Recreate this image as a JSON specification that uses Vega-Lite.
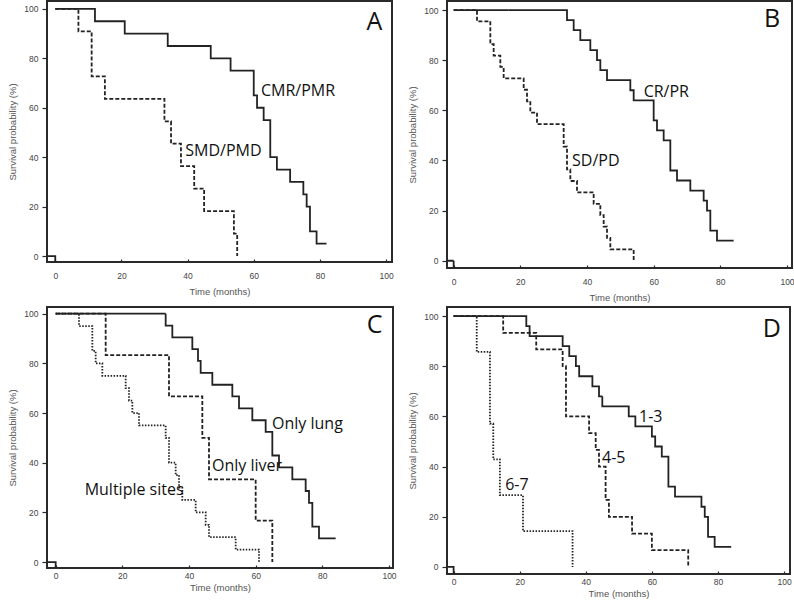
{
  "$schema": "https://vega.github.io/schema/vega-lite/v6.json",
  "padding": {"left": 6, "top": 0, "right": 0, "bottom": 0},
  "background": "white",
  "columns": 2,
  "spacing": {"column": 8, "row": 3},
  "config": {
    "view": {"stroke": "#2a2a2a", "strokeWidth": 2},
    "axis": {
      "domain": false, "grid": false,
      "tickColor": "#2a2a2a", "tickWidth": 1.2,
      "labelFont": "Liberation Sans", "labelFontSize": 8.5, "labelColor": "#444",
      "titleFont": "Liberation Sans", "titleFontSize": 9.5, "titleFontWeight": "normal", "titleColor": "#555"
    },
    "axisY": {"tickSize": 5, "labelPadding": 4, "titlePadding": 6},
    "axisX": {"offset": -3, "tickSize": 3, "labelPadding": 9, "titlePadding": 7}
  },
  "concat": [
    {
      "width": 345, "height": 261,
      "layer": [
        {
          "data": {"values": [
            {"g": "origin", "t": -2.4, "s": 0}, {"g": "origin", "t": 0, "s": -2.5},
            {"g": "CMR/PMR", "t": 0, "s": 100}, {"g": "CMR/PMR", "t": 12, "s": 95}, {"g": "CMR/PMR", "t": 21, "s": 90}, {"g": "CMR/PMR", "t": 34, "s": 85}, {"g": "CMR/PMR", "t": 47, "s": 80}, {"g": "CMR/PMR", "t": 53, "s": 75}, {"g": "CMR/PMR", "t": 60, "s": 65}, {"g": "CMR/PMR", "t": 61, "s": 60}, {"g": "CMR/PMR", "t": 63, "s": 55}, {"g": "CMR/PMR", "t": 65, "s": 40}, {"g": "CMR/PMR", "t": 67, "s": 35}, {"g": "CMR/PMR", "t": 71, "s": 30}, {"g": "CMR/PMR", "t": 75, "s": 25}, {"g": "CMR/PMR", "t": 76, "s": 20}, {"g": "CMR/PMR", "t": 77, "s": 10}, {"g": "CMR/PMR", "t": 79, "s": 5}, {"g": "CMR/PMR", "t": 82, "s": 5},
            {"g": "SMD/PMD", "t": 0, "s": 100}, {"g": "SMD/PMD", "t": 7, "s": 90.9}, {"g": "SMD/PMD", "t": 11, "s": 72.7}, {"g": "SMD/PMD", "t": 15, "s": 63.6}, {"g": "SMD/PMD", "t": 33, "s": 54.5}, {"g": "SMD/PMD", "t": 35, "s": 45.5}, {"g": "SMD/PMD", "t": 38, "s": 36.4}, {"g": "SMD/PMD", "t": 42, "s": 27.3}, {"g": "SMD/PMD", "t": 45, "s": 18.2}, {"g": "SMD/PMD", "t": 54, "s": 9.1}, {"g": "SMD/PMD", "t": 55, "s": 0}
          ]},
          "mark": {"type": "line", "interpolate": "step-after", "strokeWidth": 1.8, "color": "#222", "clip": true},
          "encoding": {
            "x": {"field": "t", "type": "quantitative", "scale": {"domain": [-2.5, 101.8], "nice": false, "zero": false}, "axis": {"title": "Time (months)", "values": [0,10,20,30,40,50,60,70,80,90,100], "labelExpr": "datum.value % 20 == 0 ? datum.label : ''"}},
            "y": {"field": "s", "type": "quantitative", "scale": {"domain": [-2.4, 103.2], "nice": false, "zero": false}, "axis": {"title": "Survival probability (%)", "values": [0,10,20,30,40,50,60,70,80,90,100], "labelExpr": "datum.value % 20 == 0 ? datum.label : ''"}},
            "detail": {"field": "g", "type": "nominal"},
            "strokeDash": {"field": "g", "type": "nominal", "legend": null, "scale": {"domain": ["origin","CMR/PMR","SMD/PMD","CR/PR","SD/PD","Only lung","Only liver","Multiple sites","1-3","4-5","6-7"], "range": [[1,0],[1,0],[4,2],[1,0],[4,2],[1,0],[4,2],[1.5,1.5],[1,0],[4,2],[1.5,1.5]]}}
          }
        },
        {
          "data": {"values": [{"label": "CMR/PMR", "t": 62.2, "s": 66.8}, {"label": "SMD/PMD", "t": 39.3, "s": 42.7}]},
          "mark": {"type": "text", "align": "left", "baseline": "middle", "font": "Open Sans", "fontSize": 16, "color": "#111"},
          "encoding": {"x": {"field": "t", "type": "quantitative"}, "y": {"field": "s", "type": "quantitative"}, "text": {"field": "label"}}
        },
        {
          "data": {"values": [{"label": "A", "t": 96.5, "s": 94.6}]},
          "mark": {"type": "text", "align": "center", "baseline": "middle", "font": "Open Sans", "fontSize": 25, "color": "#111"},
          "encoding": {"x": {"field": "t", "type": "quantitative"}, "y": {"field": "s", "type": "quantitative"}, "text": {"field": "label"}}
        }
      ]
    },
    {
      "width": 345, "height": 267,
      "layer": [
        {
          "data": {"values": [
            {"g": "origin", "t": -2.4, "s": 0}, {"g": "origin", "t": 0, "s": -2.8},
            {"g": "CR/PR", "t": 0, "s": 100}, {"g": "CR/PR", "t": 34, "s": 96}, {"g": "CR/PR", "t": 36, "s": 92}, {"g": "CR/PR", "t": 38, "s": 88}, {"g": "CR/PR", "t": 41, "s": 84}, {"g": "CR/PR", "t": 43, "s": 80}, {"g": "CR/PR", "t": 44, "s": 76}, {"g": "CR/PR", "t": 46, "s": 72}, {"g": "CR/PR", "t": 53, "s": 68}, {"g": "CR/PR", "t": 54, "s": 64}, {"g": "CR/PR", "t": 60, "s": 56}, {"g": "CR/PR", "t": 61, "s": 52}, {"g": "CR/PR", "t": 63, "s": 48}, {"g": "CR/PR", "t": 65, "s": 36}, {"g": "CR/PR", "t": 67, "s": 32}, {"g": "CR/PR", "t": 71, "s": 28}, {"g": "CR/PR", "t": 75, "s": 24}, {"g": "CR/PR", "t": 76, "s": 20}, {"g": "CR/PR", "t": 77, "s": 12}, {"g": "CR/PR", "t": 79, "s": 8}, {"g": "CR/PR", "t": 84, "s": 8},
            {"g": "SD/PD", "t": 0, "s": 100}, {"g": "SD/PD", "t": 7, "s": 95.5}, {"g": "SD/PD", "t": 11, "s": 86.4}, {"g": "SD/PD", "t": 12, "s": 81.8}, {"g": "SD/PD", "t": 14, "s": 77.3}, {"g": "SD/PD", "t": 15, "s": 72.7}, {"g": "SD/PD", "t": 21, "s": 68.2}, {"g": "SD/PD", "t": 22, "s": 63.6}, {"g": "SD/PD", "t": 23, "s": 59.1}, {"g": "SD/PD", "t": 25, "s": 54.5}, {"g": "SD/PD", "t": 33, "s": 45.5}, {"g": "SD/PD", "t": 34, "s": 36.4}, {"g": "SD/PD", "t": 35, "s": 31.8}, {"g": "SD/PD", "t": 37, "s": 27.3}, {"g": "SD/PD", "t": 42, "s": 22.7}, {"g": "SD/PD", "t": 44, "s": 18.2}, {"g": "SD/PD", "t": 45, "s": 13.6}, {"g": "SD/PD", "t": 46, "s": 9.1}, {"g": "SD/PD", "t": 47, "s": 4.5}, {"g": "SD/PD", "t": 54, "s": 0}
          ]},
          "mark": {"type": "line", "interpolate": "step-after", "strokeWidth": 1.8, "color": "#222", "clip": true},
          "encoding": {
            "x": {"field": "t", "type": "quantitative", "scale": {"domain": [-2, 101.5], "nice": false, "zero": false}, "axis": {"title": "Time (months)", "values": [0,10,20,30,40,50,60,70,80,90,100], "labelExpr": "datum.value % 20 == 0 ? datum.label : ''"}},
            "y": {"field": "s", "type": "quantitative", "scale": {"domain": [-2.9, 103.6], "nice": false, "zero": false}, "axis": {"title": "Survival probability (%)", "values": [0,10,20,30,40,50,60,70,80,90,100], "labelExpr": "datum.value % 20 == 0 ? datum.label : ''"}},
            "detail": {"field": "g", "type": "nominal"},
            "strokeDash": {"field": "g", "type": "nominal", "legend": null}
          }
        },
        {
          "data": {"values": [{"label": "CR/PR", "t": 57, "s": 67.3}, {"label": "SD/PD", "t": 35.5, "s": 39.8}]},
          "mark": {"type": "text", "align": "left", "baseline": "middle", "font": "Open Sans", "fontSize": 16, "color": "#111"},
          "encoding": {"x": {"field": "t", "type": "quantitative"}, "y": {"field": "s", "type": "quantitative"}, "text": {"field": "label"}}
        },
        {
          "data": {"values": [{"label": "B", "t": 95.5, "s": 96.3}]},
          "mark": {"type": "text", "align": "center", "baseline": "middle", "font": "Open Sans", "fontSize": 25, "color": "#111"},
          "encoding": {"x": {"field": "t", "type": "quantitative"}, "y": {"field": "s", "type": "quantitative"}, "text": {"field": "label"}}
        }
      ]
    },
    {
      "width": 346, "height": 261,
      "layer": [
        {
          "data": {"values": [
            {"g": "origin", "t": -2.6, "s": 0}, {"g": "origin", "t": 0, "s": -2.4},
            {"g": "Only lung", "t": 0, "s": 100}, {"g": "Only lung", "t": 33, "s": 95.2}, {"g": "Only lung", "t": 35, "s": 90.5}, {"g": "Only lung", "t": 41, "s": 85.7}, {"g": "Only lung", "t": 42.7, "s": 81}, {"g": "Only lung", "t": 43.5, "s": 76.2}, {"g": "Only lung", "t": 47, "s": 71.4}, {"g": "Only lung", "t": 53, "s": 66.7}, {"g": "Only lung", "t": 55, "s": 61.9}, {"g": "Only lung", "t": 59, "s": 57.1}, {"g": "Only lung", "t": 63, "s": 52.4}, {"g": "Only lung", "t": 65, "s": 42.9}, {"g": "Only lung", "t": 67, "s": 38.1}, {"g": "Only lung", "t": 71, "s": 33.3}, {"g": "Only lung", "t": 75, "s": 28.6}, {"g": "Only lung", "t": 76, "s": 23.8}, {"g": "Only lung", "t": 77, "s": 14.3}, {"g": "Only lung", "t": 79, "s": 9.5}, {"g": "Only lung", "t": 84, "s": 9.5},
            {"g": "Only liver", "t": 0, "s": 100}, {"g": "Only liver", "t": 15, "s": 83.3}, {"g": "Only liver", "t": 34, "s": 66.7}, {"g": "Only liver", "t": 44, "s": 50}, {"g": "Only liver", "t": 46, "s": 33.3}, {"g": "Only liver", "t": 60, "s": 16.7}, {"g": "Only liver", "t": 65, "s": 0},
            {"g": "Multiple sites", "t": 0, "s": 100}, {"g": "Multiple sites", "t": 7, "s": 95}, {"g": "Multiple sites", "t": 11, "s": 85}, {"g": "Multiple sites", "t": 12, "s": 80}, {"g": "Multiple sites", "t": 14, "s": 75}, {"g": "Multiple sites", "t": 21, "s": 70}, {"g": "Multiple sites", "t": 22, "s": 65}, {"g": "Multiple sites", "t": 23, "s": 60}, {"g": "Multiple sites", "t": 25, "s": 55}, {"g": "Multiple sites", "t": 33, "s": 50}, {"g": "Multiple sites", "t": 34, "s": 40}, {"g": "Multiple sites", "t": 36, "s": 35}, {"g": "Multiple sites", "t": 37, "s": 30}, {"g": "Multiple sites", "t": 38, "s": 25}, {"g": "Multiple sites", "t": 42, "s": 20}, {"g": "Multiple sites", "t": 45, "s": 15}, {"g": "Multiple sites", "t": 46, "s": 10}, {"g": "Multiple sites", "t": 54, "s": 5}, {"g": "Multiple sites", "t": 61, "s": 0}
          ]},
          "mark": {"type": "line", "interpolate": "step-after", "strokeWidth": 1.8, "color": "#222", "clip": true},
          "encoding": {
            "x": {"field": "t", "type": "quantitative", "scale": {"domain": [-2.6, 101.2], "nice": false, "zero": false}, "axis": {"title": "Time (months)", "labelPadding": 3, "titlePadding": 3, "values": [0,10,20,30,40,50,60,70,80,90,100], "labelExpr": "datum.value % 20 == 0 ? datum.label : ''"}},
            "y": {"field": "s", "type": "quantitative", "scale": {"domain": [-2.4, 102.7], "nice": false, "zero": false}, "axis": {"title": "Survival probability (%)", "values": [0,10,20,30,40,50,60,70,80,90,100], "labelExpr": "datum.value % 20 == 0 ? datum.label : ''"}},
            "detail": {"field": "g", "type": "nominal"},
            "strokeDash": {"field": "g", "type": "nominal", "legend": null}
          }
        },
        {
          "data": {"values": [{"label": "Only lung", "t": 64.9, "s": 55.5}, {"label": "Only liver", "t": 46.9, "s": 38.8}, {"label": "Multiple sites", "t": 8.7, "s": 28.9}]},
          "mark": {"type": "text", "align": "left", "baseline": "middle", "font": "Open Sans", "fontSize": 16, "color": "#111"},
          "encoding": {"x": {"field": "t", "type": "quantitative"}, "y": {"field": "s", "type": "quantitative"}, "text": {"field": "label"}}
        },
        {
          "data": {"values": [{"label": "C", "t": 95.7, "s": 95.6}]},
          "mark": {"type": "text", "align": "center", "baseline": "middle", "font": "Open Sans", "fontSize": 25, "color": "#111"},
          "encoding": {"x": {"field": "t", "type": "quantitative"}, "y": {"field": "s", "type": "quantitative"}, "text": {"field": "label"}}
        }
      ]
    },
    {
      "width": 343, "height": 267,
      "layer": [
        {
          "data": {"values": [
            {"g": "origin", "t": -2, "s": 0}, {"g": "origin", "t": 0, "s": -2.8},
            {"g": "1-3", "t": 0, "s": 100}, {"g": "1-3", "t": 22, "s": 96}, {"g": "1-3", "t": 23, "s": 92}, {"g": "1-3", "t": 33, "s": 88}, {"g": "1-3", "t": 35, "s": 84}, {"g": "1-3", "t": 37, "s": 80}, {"g": "1-3", "t": 38, "s": 76}, {"g": "1-3", "t": 42, "s": 72}, {"g": "1-3", "t": 44, "s": 68}, {"g": "1-3", "t": 45, "s": 64}, {"g": "1-3", "t": 53, "s": 60}, {"g": "1-3", "t": 55, "s": 56}, {"g": "1-3", "t": 60, "s": 52}, {"g": "1-3", "t": 61, "s": 48}, {"g": "1-3", "t": 63, "s": 44}, {"g": "1-3", "t": 65, "s": 32}, {"g": "1-3", "t": 67, "s": 28}, {"g": "1-3", "t": 75, "s": 24}, {"g": "1-3", "t": 76, "s": 20}, {"g": "1-3", "t": 77, "s": 12}, {"g": "1-3", "t": 79, "s": 8}, {"g": "1-3", "t": 84, "s": 8},
            {"g": "4-5", "t": 0, "s": 100}, {"g": "4-5", "t": 15, "s": 93.3}, {"g": "4-5", "t": 25, "s": 86.7}, {"g": "4-5", "t": 33, "s": 80}, {"g": "4-5", "t": 34, "s": 60}, {"g": "4-5", "t": 41, "s": 53.3}, {"g": "4-5", "t": 43, "s": 46.7}, {"g": "4-5", "t": 44, "s": 40}, {"g": "4-5", "t": 46, "s": 26.7}, {"g": "4-5", "t": 47, "s": 20}, {"g": "4-5", "t": 54, "s": 13.3}, {"g": "4-5", "t": 60, "s": 6.7}, {"g": "4-5", "t": 71, "s": 0},
            {"g": "6-7", "t": 0, "s": 100}, {"g": "6-7", "t": 7, "s": 85.7}, {"g": "6-7", "t": 11, "s": 57.1}, {"g": "6-7", "t": 12, "s": 42.9}, {"g": "6-7", "t": 14, "s": 28.6}, {"g": "6-7", "t": 21, "s": 14.3}, {"g": "6-7", "t": 36, "s": 0}
          ]},
          "mark": {"type": "line", "interpolate": "step-after", "strokeWidth": 1.8, "color": "#222", "clip": true},
          "encoding": {
            "x": {"field": "t", "type": "quantitative", "scale": {"domain": [-2, 101.8], "nice": false, "zero": false}, "axis": {"title": "Time (months)", "labelPadding": 3, "titlePadding": 3, "values": [0,10,20,30,40,50,60,70,80,90,100], "labelExpr": "datum.value % 20 == 0 ? datum.label : ''"}},
            "y": {"field": "s", "type": "quantitative", "scale": {"domain": [-2.8, 103.6], "nice": false, "zero": false}, "axis": {"title": "Survival probability (%)", "values": [0,10,20,30,40,50,60,70,80,90,100], "labelExpr": "datum.value % 20 == 0 ? datum.label : ''"}},
            "detail": {"field": "g", "type": "nominal"},
            "strokeDash": {"field": "g", "type": "nominal", "legend": null}
          }
        },
        {
          "data": {"values": [{"label": "1-3", "t": 56.1, "s": 59.9}, {"label": "4-5", "t": 44.9, "s": 43.6}, {"label": "6-7", "t": 15.6, "s": 32.5}]},
          "mark": {"type": "text", "align": "left", "baseline": "middle", "font": "Open Sans", "fontSize": 16, "color": "#111"},
          "encoding": {"x": {"field": "t", "type": "quantitative"}, "y": {"field": "s", "type": "quantitative"}, "text": {"field": "label"}}
        },
        {
          "data": {"values": [{"label": "D", "t": 96.3, "s": 95}]},
          "mark": {"type": "text", "align": "center", "baseline": "middle", "font": "Open Sans", "fontSize": 25, "color": "#111"},
          "encoding": {"x": {"field": "t", "type": "quantitative"}, "y": {"field": "s", "type": "quantitative"}, "text": {"field": "label"}}
        }
      ]
    }
  ]
}
